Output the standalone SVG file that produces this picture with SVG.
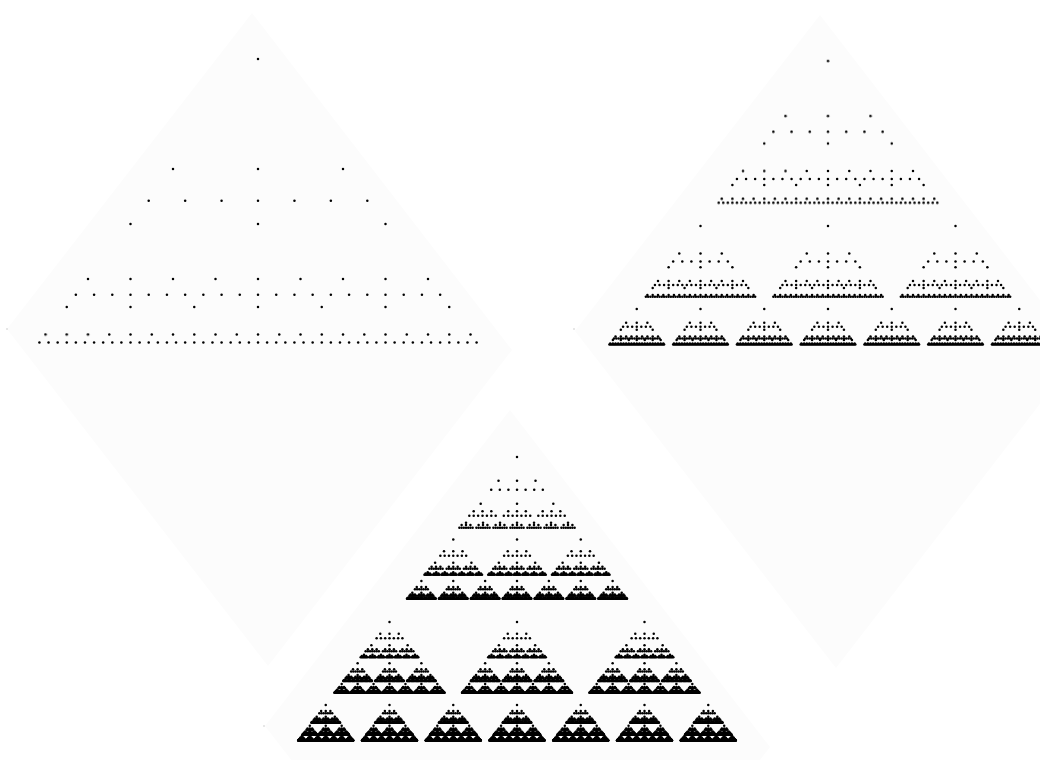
<svg xmlns="http://www.w3.org/2000/svg" width="1040" height="760" viewBox="0 0 1040 760">
<style>
.dot{fill:none;stroke:#000;stroke-width:2.5;stroke-linecap:round;vector-effect:non-scaling-stroke}
.bg{fill:#fcfcfc}
.speck{fill:#c8c8c8}
.soft{filter:url(#soft)}
</style>
<defs>
<filter id="soft" filterUnits="userSpaceOnUse" x="0" y="0" width="1040" height="760"><feGaussianBlur stdDeviation=".35"/></filter>
<path id="d" class="dot" d="M0 0h.02"/>
<polygon id="diamond" class="bg" points="0,0 260,337 16,653 -245,316"/>
<g id="p0">
<use href="#d"/>
<use href="#d" x="-170" y="220"/><use href="#d" y="220"/><use href="#d" x="170" y="220"/>
<use href="#d" x="-218.6" y="283.4"/><use href="#d" x="-145.7" y="283.4"/><use href="#d" x="-72.9" y="283.4"/><use href="#d" y="283.4"/><use href="#d" x="72.9" y="283.4"/><use href="#d" x="145.7" y="283.4"/><use href="#d" x="218.6" y="283.4"/>
</g>
<g id="p1">
<use href="#p0" transform="scale(.5)"/>
<use href="#p0" transform="translate(-127.5 165) scale(.25)"/><use href="#p0" transform="translate(0 165) scale(.25)"/><use href="#p0" transform="translate(127.5 165) scale(.25)"/>
<use href="#p0" transform="translate(-191.25 248) scale(.125)"/><use href="#p0" transform="translate(-127.5 248) scale(.125)"/><use href="#p0" transform="translate(-63.75 248) scale(.125)"/><use href="#p0" transform="translate(0 248) scale(.125)"/><use href="#p0" transform="translate(63.75 248) scale(.125)"/><use href="#p0" transform="translate(127.5 248) scale(.125)"/><use href="#p0" transform="translate(191.25 248) scale(.125)"/>
</g>
<g id="p2">
<use href="#p1" transform="scale(.5)"/>
<use href="#p1" transform="translate(-127.5 165) scale(.25)"/><use href="#p1" transform="translate(0 165) scale(.25)"/><use href="#p1" transform="translate(127.5 165) scale(.25)"/>
<use href="#p1" transform="translate(-191.25 248) scale(.125)"/><use href="#p1" transform="translate(-127.5 248) scale(.125)"/><use href="#p1" transform="translate(-63.75 248) scale(.125)"/><use href="#p1" transform="translate(0 248) scale(.125)"/><use href="#p1" transform="translate(63.75 248) scale(.125)"/><use href="#p1" transform="translate(127.5 248) scale(.125)"/><use href="#p1" transform="translate(191.25 248) scale(.125)"/>
</g>
<g id="c7a"><use href="#d" x="-13.2"/><use href="#d" x="-8.8"/><use href="#d" x="-4.4"/><use href="#d"/><use href="#d" x="4.4"/><use href="#d" x="8.8"/><use href="#d" x="13.2"/></g>
<g id="c3a"><use href="#d" x="-8.8"/><use href="#d"/><use href="#d" x="8.8"/></g>
<g id="c7b"><use href="#d" x="-6.6"/><use href="#d" x="-4.4"/><use href="#d" x="-2.2"/><use href="#d"/><use href="#d" x="2.2"/><use href="#d" x="4.4"/><use href="#d" x="6.6"/></g>
<g id="c3b"><use href="#d" x="-4.4"/><use href="#d"/><use href="#d" x="4.4"/></g>
<g id="q-base"><use href="#d" y="-5"/><use href="#c3b" y="-2.7"/><use href="#c7b"/></g>
<g id="q1" transform="scale(4)">
<use href="#d"/>
<use href="#d" x="-18.5" y="23.7"/><use href="#d" y="23.7"/><use href="#d" x="18.5" y="23.7"/>
<use href="#d" x="-25.8" y="32.7"/><use href="#d" x="-17.2" y="32.7"/><use href="#d" x="-8.6" y="32.7"/><use href="#d" y="32.7"/><use href="#d" x="8.6" y="32.7"/><use href="#d" x="17.2" y="32.7"/><use href="#d" x="25.8" y="32.7"/>
<use href="#d" x="-36.3" y="46.7"/><use href="#d" y="46.7"/><use href="#d" x="36.3" y="46.7"/>
<use href="#c3a" x="-34.5" y="54.3"/><use href="#c3a" y="54.3"/><use href="#c3a" x="34.5" y="54.3"/>
<use href="#c7a" x="-34.5" y="58.7"/><use href="#c7a" y="58.7"/><use href="#c7a" x="34.5" y="58.7"/>
<use href="#q-base" x="-51" y="70.7"/><use href="#q-base" x="-34" y="70.7"/><use href="#q-base" x="-17" y="70.7"/><use href="#q-base" y="70.7"/><use href="#q-base" x="17" y="70.7"/><use href="#q-base" x="34" y="70.7"/><use href="#q-base" x="51" y="70.7"/>
</g>
<g id="q2">
<use href="#q1" transform="scale(.5)"/>
<use href="#q1" transform="translate(-127.5 165) scale(.25)"/><use href="#q1" transform="translate(0 165) scale(.25)"/><use href="#q1" transform="translate(127.5 165) scale(.25)"/>
<use href="#q1" transform="translate(-191.25 248) scale(.125)"/><use href="#q1" transform="translate(-127.5 248) scale(.125)"/><use href="#q1" transform="translate(-63.75 248) scale(.125)"/><use href="#q1" transform="translate(0 248) scale(.125)"/><use href="#q1" transform="translate(63.75 248) scale(.125)"/><use href="#q1" transform="translate(127.5 248) scale(.125)"/><use href="#q1" transform="translate(191.25 248) scale(.125)"/>
</g>
<g id="q3">
<use href="#q2" transform="scale(.5)"/>
<use href="#q2" transform="translate(-127.5 165) scale(.25)"/><use href="#q2" transform="translate(0 165) scale(.25)"/><use href="#q2" transform="translate(127.5 165) scale(.25)"/>
<use href="#q2" transform="translate(-191.25 248) scale(.125)"/><use href="#q2" transform="translate(-127.5 248) scale(.125)"/><use href="#q2" transform="translate(-63.75 248) scale(.125)"/><use href="#q2" transform="translate(0 248) scale(.125)"/><use href="#q2" transform="translate(63.75 248) scale(.125)"/><use href="#q2" transform="translate(127.5 248) scale(.125)"/><use href="#q2" transform="translate(191.25 248) scale(.125)"/>
</g>
</defs>
<rect width="1040" height="760" fill="#fff"/>
<use href="#diamond" x="252" y="13"/>
<use href="#diamond" x="820" y="15"/>
<use href="#diamond" x="510" y="410"/>
<circle class="speck" cx="7" cy="329" r=".8"/>
<circle class="speck" cx="574" cy="329" r=".8"/>
<circle class="speck" cx="264" cy="726" r=".8"/>
<g class="soft">
<g id="fractal-1" transform="translate(258 59)"><use href="#p1"/></g>
<g id="fractal-2" transform="translate(828 61)"><use href="#p2"/></g>
<g id="fractal-3" transform="translate(517 457)"><use href="#q3"/></g>
</g>
</svg>
